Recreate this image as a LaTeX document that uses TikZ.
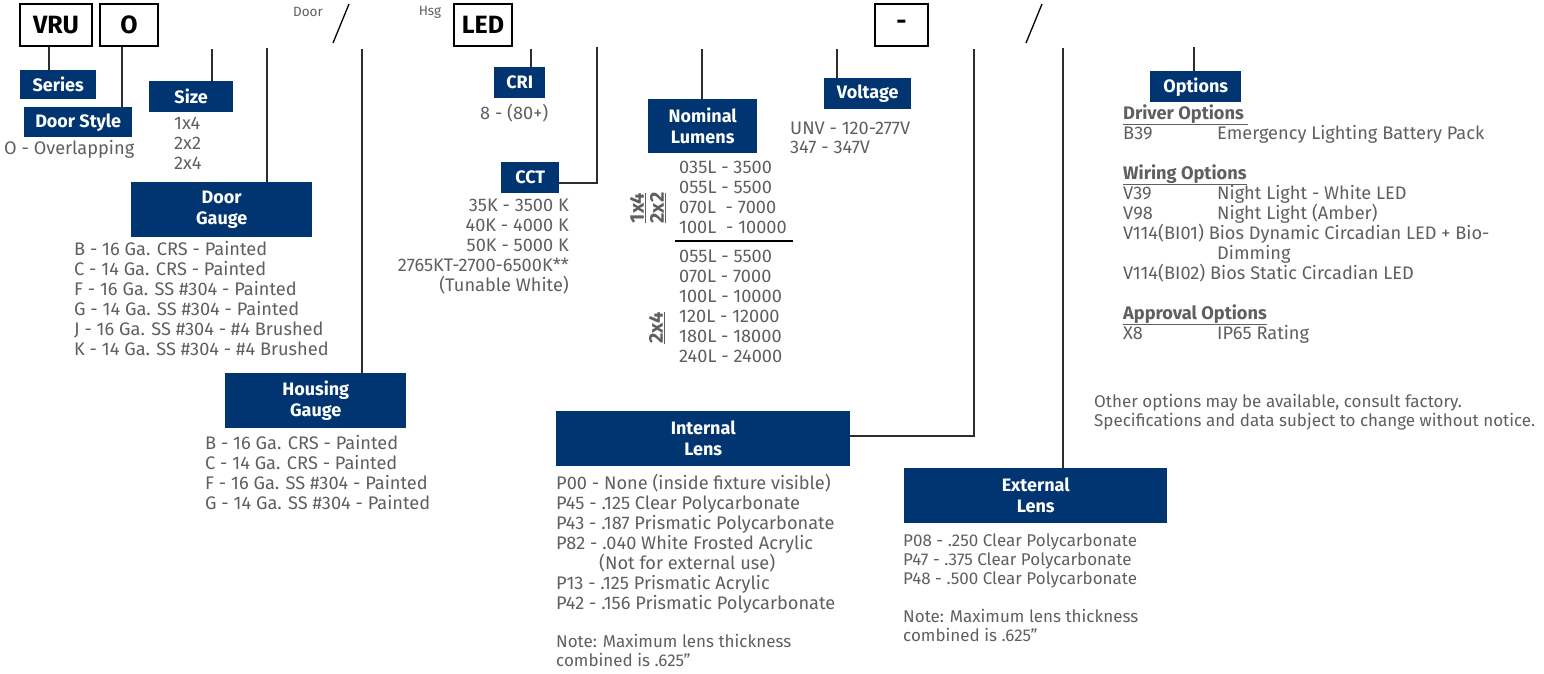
\documentclass[tikz,border=0pt]{standalone}
\usepackage{fontspec}
\setmainfont{Fira Sans}
\definecolor{navy}{RGB}{0,53,113}
\definecolor{txtgray}{RGB}{95,95,95}
\definecolor{linegray}{RGB}{45,45,45}
\begin{document}
\begin{tikzpicture}[x=1pt,y=-1pt,
  codebox/.style={draw=black, line width=1.3pt, fill=white, inner sep=0pt, font=\bfseries\fontsize{25}{26}\selectfont, text=black, minimum height=42pt},
  hdr/.style={fill=navy, text=white, inner sep=0pt, anchor=north west, align=center, font=\bfseries\fontsize{18}{21}\selectfont},
  txt/.style={anchor=base west, inner sep=0pt, text=txtgray, font=\fontsize{18.2}{20}\selectfont},
  txtr/.style={anchor=base east, inner sep=0pt, text=txtgray, font=\fontsize{18.2}{20}\selectfont},
  small/.style={anchor=base west, inner sep=0pt, text=txtgray, font=\fontsize{17}{19}\selectfont},
  tiny/.style={inner sep=0pt, text=txtgray, font=\fontsize{13.5}{15}\selectfont},
  rot/.style={rotate=90, inner sep=0pt, text=txtgray, font=\bfseries\fontsize{20}{22}\selectfont},
  conn/.style={draw=linegray, line width=1.4pt},
  slash/.style={draw=black, line width=1.3pt}]
\useasboundingbox (0,0) rectangle (1544,673);

% code boxes
\node[codebox, minimum width=72pt] (vru) at (56,25) {VRU};
\node[codebox, minimum width=58pt] (obox) at (129,25) {O};
\node[codebox, minimum width=58pt] (led) at (483,25) {LED};
\node[codebox, minimum width=53pt] (dash) at (901.5,25) {-};
\node[tiny] (door) at (308,12) {Door};
\node[tiny] (hsg) at (430,12) {Hsg};
\coordinate (s1a) at (333,43); \coordinate (s1b) at (349,4);
\coordinate (s2a) at (1026,43); \coordinate (s2b) at (1042,4);
\draw[slash] (s1a) -- (s1b);
\draw[slash] (s2a) -- (s2b);

% header boxes
\node[hdr, minimum width=76pt, minimum height=29pt] (series) at (20,70) {Series};
\node[hdr, minimum width=108pt, minimum height=30pt] (dstyle) at (24,107) {Door Style};
\node[hdr, minimum width=84pt, minimum height=31pt] (size) at (149,81) {Size};
\node[hdr, minimum width=181pt, minimum height=55pt] (dgauge) at (131,182) {Door\\Gauge};
\node[hdr, minimum width=181pt, minimum height=55pt] (hgauge) at (225,373) {Housing\\Gauge};
\node[hdr, minimum width=51pt, minimum height=31pt] (cri) at (494,67) {CRI};
\node[hdr, minimum width=58pt, minimum height=31pt] (cct) at (501,162) {CCT};
\node[hdr, minimum width=109pt, minimum height=54pt] (lumens) at (648,99) {Nominal\\Lumens};
\node[hdr, minimum width=87pt, minimum height=31pt] (volt) at (824,78) {Voltage};
\node[hdr, minimum width=294pt, minimum height=55pt] (ilens) at (556,411) {Internal\\Lens};
\node[hdr, minimum width=263pt, minimum height=55pt] (elens) at (904,468) {External\\Lens};
\node[hdr, minimum width=91pt, minimum height=31pt] (opts) at (1150,71) {Options};

% connector start points
\coordinate (csize) at (212,49);
\coordinate (cdg) at (267,48);
\coordinate (chg) at (362,49);
\coordinate (ccri) at (531,49);
\coordinate (ccct) at (597,47);
\coordinate (clum) at (702,49);
\coordinate (cvolt) at (837,49);
\coordinate (cil) at (974,49);
\coordinate (cel) at (1063,48);
\coordinate (copt) at (1194,47);

% connectors
\draw[conn] (vru.south -| 49,0) -- (series.north -| 49,0);
\draw[conn] (obox.south -| 122,0) -- (dstyle.north -| 122,0);
\draw[conn] (csize) -- (size.north -| csize);
\draw[conn] (cdg) -- (dgauge.north -| cdg);
\draw[conn] (chg) -- (hgauge.north -| chg);
\draw[conn] (ccri) -- (cri.north -| ccri);
\draw[conn] (ccct) |- (cct.east |- 0,183);
\draw[conn] (clum) -- (lumens.north -| clum);
\draw[conn] (cvolt) -- (volt.north -| cvolt);
\draw[conn] (cil) |- (ilens.east |- 0,436);
\draw[conn] (cel) -- (elens.north -| cel);
\draw[conn] (copt) -- (opts.north -| copt);

% texts
\node[txt] (dst1) at (4,154) {O - Overlapping};
\foreach \t [count=\i] in {1x4,2x2,2x4}
  \node[txt, name=sz\i] at (174,109+20*\i) {\t};
\foreach \t [count=\i] in {B - 16 Ga. CRS - Painted, C - 14 Ga. CRS - Painted, F - 16 Ga. SS \#304 - Painted, G - 14 Ga. SS \#304 - Painted, J - 16 Ga. SS \#304 - \#4 Brushed, K - 14 Ga. SS \#304 - \#4 Brushed}
  \node[txt, name=dg\i] at (74,235+20*\i) {\t};
\foreach \t [count=\i] in {B - 16 Ga. CRS - Painted, C - 14 Ga. CRS - Painted, F - 16 Ga. SS \#304 - Painted, G - 14 Ga. SS \#304 - Painted}
  \node[txt, name=hg\i] at (205,429+20*\i) {\t};
\node[txt] (cri1) at (480,119) {8 - (80+)};
\foreach \t [count=\i] in {35K - 3500 K, 40K - 4000 K, 50K - 5000 K, 2765KT-2700-6500K**, (Tunable White)}
  \node[txtr, name=cct\i] at (569,191+20*\i) {\t};
\foreach \t [count=\i] in {035L - 3500, 055L - 5500, 070L\ \ - 7000, 100L\ \ - 10000}
  \node[txt, name=lma\i] at (679,153+20*\i) {\t};
\coordinate (sepa) at (675,241); \coordinate (sepb) at (793,241);
\draw[draw=black, line width=1.3pt] (sepa) -- (sepb);
\foreach \t [count=\i] in {055L - 5500, 070L - 7000, 100L - 10000, 120L - 12000, 180L - 18000, 240L - 24000}
  \node[txt, name=lmb\i] at (679,242+20*\i) {\t};
\node[rot] (r14) at (638,208) {\underline{1x4}};
\node[rot] (r22) at (658,208) {\underline{2x2}};
\node[rot] (r24) at (657,328) {\underline{2x4}};
\node[txt] (v1) at (790,134) {UNV - 120-277V};
\node[txt] (v2) at (790,153) {347 - 347V};
% internal lens
\node[txt] (il1) at (556,489) {P00 - None (inside fixture visible)};
\node[txt] (il2) at (556,509) {P45 - .125 Clear Polycarbonate};
\node[txt] (il3) at (556,529) {P43 - .187 Prismatic Polycarbonate};
\node[txt] (il4) at (556,549) {P82 - .040 White Frosted Acrylic};
\node[txt] (il5) at (599,569) {(Not for external use)};
\node[txt] (il6) at (556,589) {P13 - .125 Prismatic Acrylic};
\node[txt] (il7) at (556,609) {P42 - .156 Prismatic Polycarbonate};
\node[small] (iln1) at (556,647) {Note: Maximum lens thickness};
\node[small] (iln2) at (556,666) {combined is .625"};
% external lens
\node[small] (el1) at (903,546) {P08 - .250 Clear Polycarbonate};
\node[small] (el2) at (903,565) {P47 - .375 Clear Polycarbonate};
\node[small] (el3) at (903,584) {P48 - .500 Clear Polycarbonate};
\node[small] (eln1) at (903,622) {Note: Maximum lens thickness};
\node[small] (eln2) at (903,641) {combined is .625"};
% options
\node[txt, font=\bfseries\fontsize{18.2}{20}\selectfont] (oh1) at (1123,119) {\underline{Driver Options\ }};
\node[txt] (o1) at (1123,139) {B39};
\node[txt] (o1d) at (1217,139) {Emergency Lighting Battery Pack};
\node[txt, font=\bfseries\fontsize{18.2}{20}\selectfont] (oh2) at (1123,179) {\underline{Wiring Options}};
\node[txt] (o2) at (1123,199) {V39};
\node[txt] (o2d) at (1217,199) {Night Light - White LED};
\node[txt] (o3) at (1123,219) {V98};
\node[txt] (o3d) at (1217,219) {Night Light (Amber)};
\node[txt] (o4) at (1123,239) {V114(BI01) Bios Dynamic Circadian LED + Bio-};
\node[txt] (o4d) at (1217,259) {Dimming};
\node[txt] (o5) at (1123,279) {V114(BI02) Bios Static Circadian LED};
\node[txt, font=\bfseries\fontsize{18.2}{20}\selectfont] (oh3) at (1123,319) {\underline{Approval Options}};
\node[txt] (o6) at (1123,339) {X8};
\node[txt] (o6d) at (1217,339) {IP65 Rating};
\node[small] (oth1) at (1094,407) {Other options may be available, consult factory.};
\node[small] (oth2) at (1094,426) {Specifications and data subject to change without notice.};
\end{tikzpicture}
\end{document}
